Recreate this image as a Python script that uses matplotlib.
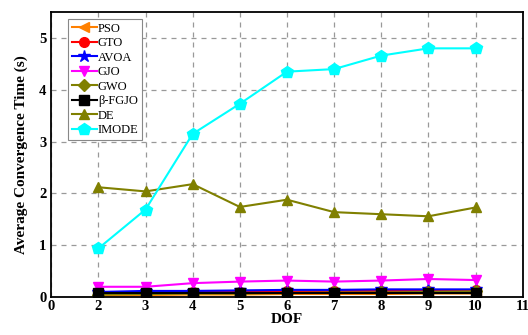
import matplotlib
matplotlib.use('Agg')
import matplotlib.pyplot as plt

plt.rcParams['font.family'] = ['Liberation Serif', 'DejaVu Serif']

# DOF values on x
dof = [2, 3, 4, 5, 6, 7, 8, 9, 10]

pso = [0.03, 0.04, 0.05, 0.05, 0.06, 0.06, 0.06, 0.07, 0.07]
gto = [0.07, 0.08, 0.10, 0.10, 0.11, 0.12, 0.12, 0.12, 0.13]
avoa = [0.10, 0.12, 0.12, 0.13, 0.14, 0.14, 0.15, 0.15, 0.15]
gjo = [0.20, 0.20, 0.27, 0.30, 0.32, 0.30, 0.32, 0.35, 0.33]
gwo = [0.05, 0.06, 0.07, 0.07, 0.08, 0.09, 0.09, 0.10, 0.11]
fgjo = [0.08, 0.08, 0.08, 0.08, 0.08, 0.08, 0.08, 0.08, 0.08]
de = [2.12, 2.04, 2.18, 1.74, 1.88, 1.64, 1.60, 1.56, 1.73]
imode = [0.94, 1.69, 3.15, 3.73, 4.35, 4.40, 4.66, 4.80, 4.80]

xticks = [1, 2, 3, 4, 5, 6, 7, 8, 9, 10, 11]
xticklabels = ['0', '2', '3', '4', '5', '6', '7', '8', '9', '10', '11']

fig = plt.figure(figsize=(5.28, 3.35), dpi=100)
ax = fig.add_axes([0.097, 0.113, 0.893, 0.851])

series = [
    ('PSO', pso, '#FF8000', '<'),
    ('GTO', gto, '#FF0000', 'o'),
    ('AVOA', avoa, '#0000FF', '*'),
    ('GJO', gjo, '#FF00FF', 'v'),
    ('GWO', gwo, '#808000', 'D'),
    ('β-FGJO', fgjo, '#000000', 's'),
    ('DE', de, '#808000', '^'),
    ('IMODE', imode, '#00FFFF', 'p'),
]
for name, vals, col, mk in series:
    ms = 7
    if mk in ('*', 'p'):
        ms = 9
    elif mk == 'D':
        ms = 6
    ax.plot(dof, vals, color=col, marker=mk, markersize=ms, linewidth=1.5, label=name)

ax.set_xlim(1, 11)
ax.set_ylim(0, 5.5)
ax.set_xticks(xticks)
ax.set_xticklabels(xticklabels)
ax.set_yticks([0, 1, 2, 3, 4, 5])
ax.tick_params(direction='in', length=0, labelsize=10.5)
ax.tick_params(axis='x', pad=2)
for lab in ax.get_xticklabels() + ax.get_yticklabels():
    lab.set_fontweight('bold')

ax.grid(True, linestyle=(0, (4, 4)), color='#999999', linewidth=0.9)
ax.set_axisbelow(True)
for sp in ax.spines.values():
    sp.set_linewidth(1.3)

ax.set_xlabel('DOF', fontsize=11, fontweight='bold', labelpad=0)
ax.set_ylabel('Average Convergence Time (s)', fontsize=11, fontweight='bold', labelpad=8)

leg = ax.legend(loc='upper left', bbox_to_anchor=(0.03, 0.985), fontsize=9,
                frameon=True, fancybox=False, edgecolor='#888888', framealpha=1,
                handlelength=2.0, handletextpad=0.1, borderpad=0.3, labelspacing=0.2,
                borderaxespad=0.2)
leg.get_frame().set_linewidth(0.8)

fig.savefig('out.png', dpi=100)
